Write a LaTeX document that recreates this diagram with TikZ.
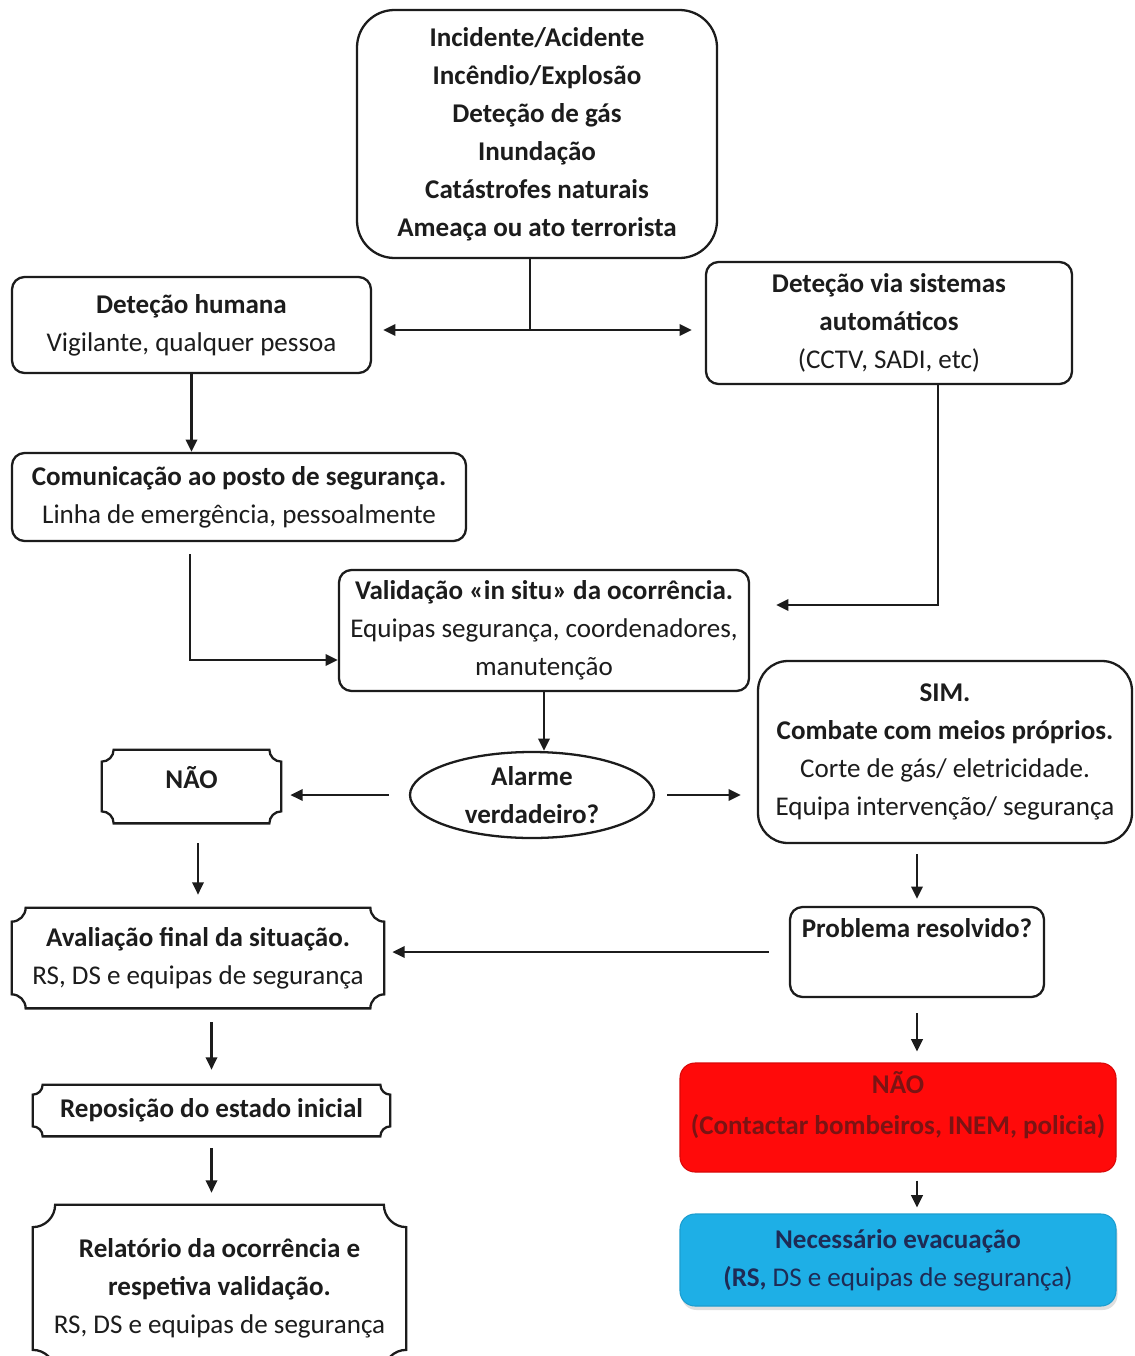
\documentclass[tikz,border=0pt]{standalone}
\usepackage{fontspec}
\setmainfont{Carlito}
\usetikzlibrary{arrows.meta, positioning, calc, shapes.geometric, shadows}

\definecolor{ink}{HTML}{1C1C1C}
\definecolor{alarmred}{HTML}{FF0A0A}
\definecolor{darkred}{HTML}{7A1414}
\definecolor{evacblue}{HTML}{1EAFE6}
\definecolor{navy}{HTML}{1E2B55}

%% frame with concave corners round a node
\newcommand{\plaqueframe}[2]{%
  \draw[frame] ($(#1.north west)+(#2,0)$) -- ($(#1.north east)+(-#2,0)$)
    arc[start angle=180,end angle=270,radius=#2]
    -- ($(#1.south east)+(0,#2)$) arc[start angle=90,end angle=180,radius=#2]
    -- ($(#1.south west)+(#2,0)$) arc[start angle=0,end angle=90,radius=#2]
    -- ($(#1.north west)+(0,-#2)$) arc[start angle=270,end angle=360,radius=#2]
    -- cycle;}

\begin{document}
\begin{tikzpicture}[x=0.02cm, y=0.02cm,
    >={Triangle[length=7pt,width=6.5pt]},
    frame/.style={draw=ink, line width=1.3pt},
    txt/.style={font=\fontsize{15.4}{21.6}\selectfont, text=ink,
                align=center, inner sep=0pt},
    box/.style={txt, frame, rounded corners=0.25cm},
    plq/.style={txt},
    sz/.style 2 args={minimum width=#1*0.02cm, minimum height=#2*0.02cm},
    line/.style={draw=ink, line width=1.3pt},
    arr/.style={line, ->}]
\useasboundingbox (0,0) rectangle (1134,-1356);
\fill[white] (0,0) rectangle (1134,-1356);
\clip (0,0) rectangle (1134,-1356);

%% nodes
\node[box, rounded corners=0.75cm, sz={360}{248},
      font=\fontsize{15.4}{21.6}\selectfont\bfseries] (evts) at (537,-134)
  {Incidente/Acidente\\ Incêndio/Explosão\\ Deteção de gás\\
   Inundação\\ Catástrofes naturais\\ Ameaça ou ato terrorista};
\node[box, sz={359}{96}] (deth) at (191.5,-325)
  {\textbf{Deteção humana}\\ Vigilante, qualquer pessoa};
\node[box, sz={366}{122}] (deta) at (889,-323)
  {\textbf{Deteção via sistemas}\\ \textbf{automáticos}\\ (CCTV, SADI, etc)};
\node[box, sz={454}{88}] (comm) at (239,-497)
  {\textbf{Comunicação ao posto de segurança.}\\ Linha de emergência, pessoalmente};
\node[box, sz={410}{121}] (valid) at (544,-630.5)
  {\textbf{Validação «in situ» da ocorrência.}\\ Equipas segurança, coordenadores,\\ manutenção};
\node[txt, frame, ellipse, sz={244}{86}] (alarm) at (532,-795)
  {\textbf{Alarme}\\ \textbf{verdadeiro?}};
\node[plq, sz={179}{73}] (naoL) at (191.5,-786.5)
  {\textbf{NÃO}\\[-0.38cm]\mbox{}};
\node[box, rounded corners=0.6cm, sz={374}{182}] (sim) at (945,-752)
  {\textbf{SIM.}\\ \textbf{Combate com meios próprios.}\\
   Corte de gás/ eletricidade.\\ Equipa intervenção/ segurança};
\node[box, sz={254}{90}] (prob) at (917,-952)
  {\textbf{Problema resolvido?}\\[0.21cm]\mbox{}};
\node[plq, sz={372}{100}] (aval) at (198,-958)
  {\textbf{Avaliação final da situação.}\\ RS, DS e equipas de segurança};
\node[plq, sz={357}{51}] (repo) at (211.5,-1110.5)
  {\textbf{Reposição do estado inicial}};
\node[plq, sz={373}{167}] (rel) at (219.5,-1288.5)
  {\textbf{Relatório da ocorrência e}\\ \textbf{respetiva validação.}\\
   RS, DS e equipas de segurança};
\node[txt, rounded corners=0.3cm, fill=alarmred, draw=alarmred!85!black,
      line width=0.6pt, text=darkred, sz={436}{109}] (red) at (898,-1117.5)
  {\textbf{NÃO}\\[0.06cm] \textbf{(Contactar bombeiros, INEM, policia)}\\[-0.16cm]\mbox{}};
\node[txt, rounded corners=0.3cm, fill=evacblue, draw=evacblue!90!black,
      line width=0.6pt, text=navy, sz={436}{92},
      drop shadow={opacity=0.25, shadow xshift=0.03cm, shadow yshift=-0.08cm}]
      (blue) at (898,-1260)
  {\textbf{Necessário evacuação}\\ \textbf{(RS,} DS e equipas de segurança)};

\plaqueframe{naoL}{0.24cm}
\plaqueframe{aval}{0.28cm}
\plaqueframe{repo}{0.2cm}
\plaqueframe{rel}{0.45cm}

%% connectors
\coordinate (split) at (530,-330);
\coordinate (dv) at (938,-605);
\coordinate (cv) at (190,-660);

\draw[line] (split |- evts.south) -- (split);
\draw[arr, shorten >=0.22cm] (split) -- (split -| deth.east);
\draw[arr, shorten >=0.26cm] (split) -- (split -| deta.west);
\draw[arr] (deth.south) -- (deth.south |- comm.north);
\draw[arr, shorten >=0.52cm] (dv |- deta.south) -- (dv) -- (dv -| valid.east);
\draw[arr, shorten <=0.24cm] (cv |- comm.south) -- (cv) -- (cv -| valid.west);
\draw[arr] (valid.south) -- (valid.south |- alarm.north);
\draw[arr, shorten <=0.4cm, shorten >=0.18cm] (alarm.west) -- (alarm.west -| naoL.east);
\draw[arr, shorten <=0.24cm, shorten >=0.32cm] (alarm.east) -- (alarm.east -| sim.west);
\draw[arr, shorten <=0.4cm, shorten >=0.26cm] (aval.north |- naoL.south) -- (aval.north);
\draw[arr, shorten <=0.2cm, shorten >=0.14cm] (prob.north |- sim.south) -- (prob.north);
\draw[arr, shorten <=0.4cm, shorten >=0.16cm] (prob.west) -- (prob.west -| aval.east);
\draw[arr, shorten <=0.28cm, shorten >=0.3cm] (repo.north |- aval.south) -- (repo.north);
\draw[arr, shorten <=0.24cm, shorten >=0.24cm] (repo.south) -- (repo.south |- rel.north);
\draw[arr, shorten <=0.3cm, shorten >=0.22cm] (prob.south) -- (prob.south |- red.north);
\draw[arr, shorten <=0.16cm, shorten >=0.12cm] (prob.south |- red.south) -- (prob.south |- blue.north);
\end{tikzpicture}
\end{document}
